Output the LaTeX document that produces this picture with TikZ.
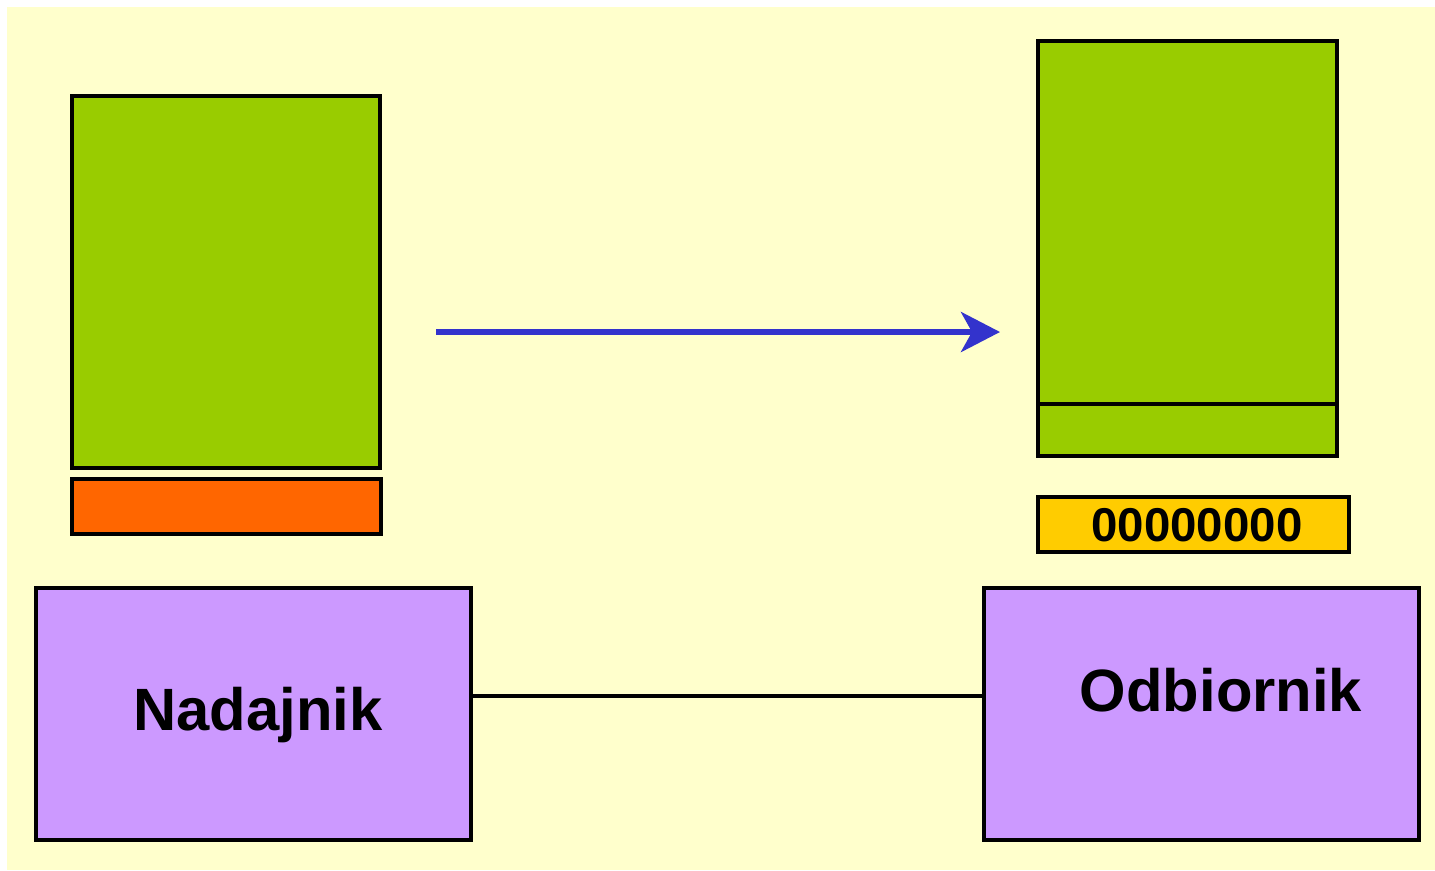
\documentclass[tikz,border=0pt]{standalone}
\usepackage{fontspec}
\setmainfont{Liberation Sans}
\usetikzlibrary{arrows.meta}
\definecolor{tlo}{HTML}{FFFFCC}
\definecolor{ziel}{HTML}{99CC00}
\definecolor{pom}{HTML}{FF6600}
\definecolor{zolty}{HTML}{FFCC00}
\definecolor{fiolet}{HTML}{CC99FF}
\definecolor{nieb}{HTML}{3333CC}
\tikzset{blok/.style={draw=black, line width=2pt, inner sep=0pt, outer sep=0pt}}

\begin{document}
\begin{tikzpicture}[x=0.02cm, y=-0.02cm, font=\bfseries]

\useasboundingbox (0,0) rectangle (1435,870);
\fill[tlo] (7,7) rectangle (1435,870);

\node[blok, fill=ziel, minimum width=6.16cm, minimum height=7.44cm] (ramka) at (226,282) {};
\node[blok, fill=pom, minimum width=6.18cm, minimum height=1.1cm] (crc) at (226.5,506.5) {};

\node[blok, fill=ziel, minimum width=5.98cm, minimum height=7.26cm] (odb dane) at (1187.5,222.5) {};
\node[blok, fill=ziel, minimum width=5.98cm, minimum height=1.04cm] (odb crc) at (1187.5,430) {};
\node[blok, fill=zolty, minimum width=6.22cm, minimum height=1.1cm] (wynik) at (1193.5,524.5) {};
\node[anchor=base, font=\fontsize{27}{27}\selectfont\bfseries] at (1197,541) {00000000};

\node[blok, fill=fiolet, minimum width=8.7cm, minimum height=5.04cm] (nad) at (253.5,714) {};
\node[blok, fill=fiolet, minimum width=8.7cm, minimum height=5.04cm] (odb) at (1201.5,714) {};
\node[anchor=base, font=\fontsize{34}{34}\selectfont\bfseries] at (258,730) {Nadajnik};
\node[anchor=base, font=\fontsize{34}{34}\selectfont\bfseries] at (1221,711) {Odbiornik};

\draw[line width=2.2pt] ([yshift=0.36cm]nad.east) -- ([yshift=0.36cm]odb.west);

\coordinate (start) at (436,332);
\coordinate (koniec) at (1000,332);
\draw[nieb, line width=3.4pt, -{Stealth[length=0.78cm, width=0.8cm, inset=0.22cm]}] (start) -- (koniec);

\end{tikzpicture}
\end{document}
